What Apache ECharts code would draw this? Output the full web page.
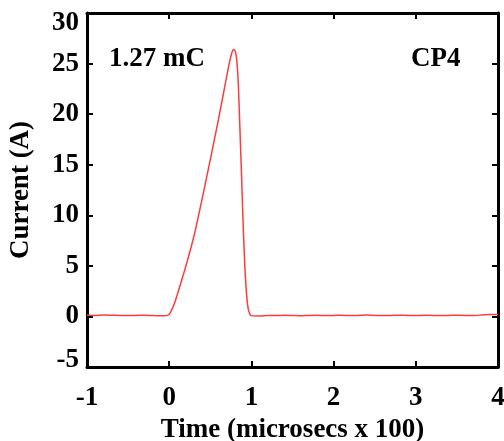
<!DOCTYPE html>
<html>
<head>
<meta charset="utf-8">
<script src="https://cdn.jsdelivr.net/npm/echarts@6/dist/echarts.min.js"></script>
<style>html,body{margin:0;padding:0;background:#fff}#c{width:504px;height:441px}</style>
</head>
<body>
<div id="c"></div>
<script>
// Time (microsecs x 100)
var times = [-1.0, -0.9, -0.8, -0.7, -0.6, -0.5, -0.4, -0.3, -0.2, -0.1, -0.03, 0.0,
  0.05, 0.1, 0.2, 0.3, 0.4, 0.5, 0.6, 0.68, 0.73, 0.76, 0.78, 0.8, 0.82, 0.84, 0.86, 0.88,
  0.9, 0.92, 0.94, 0.96, 0.98, 1.0, 1.1, 1.2, 1.3, 1.4, 1.5, 1.6, 1.7, 1.8, 1.9, 2.0,
  2.1, 2.2, 2.3, 2.4, 2.5, 2.6, 2.7, 2.8, 2.9, 3.0, 3.1, 3.2, 3.3, 3.4, 3.5, 3.6, 3.7,
  3.8, 3.9, 4.0];
// Current (A)
var current = [0.12, 0.1, 0.14, 0.12, 0.1, 0.08, 0.1, 0.12, 0.08, 0.06, 0.1, 0.2,
  1.0, 2.2, 4.9, 7.9, 11.6, 15.5, 19.5, 22.9, 25.0, 26.0, 26.4, 26.3, 25.5, 23.1, 18.6, 14.0,
  9.0, 5.0, 2.3, 0.8, 0.25, 0.08, 0.05, 0.1, 0.08, 0.12, 0.1, 0.06, 0.1, 0.12, 0.08, 0.1,
  0.12, 0.08, 0.1, 0.14, 0.1, 0.08, 0.1, 0.12, 0.1, 0.08, 0.12, 0.1, 0.08, 0.1, 0.12, 0.1, 0.1,
  0.14, 0.18, 0.2];
var xTicks = [-1, 0, 1, 2, 3, 4];
var yTicks = [-5, 0, 5, 10, 15, 20, 25, 30];
var chargeLabel = '1.27 mC';
var probeLabel = 'CP4';

var FONT = 'Liberation Serif';
var FS = 27;
var pts = times.map(function (t, i) { return [t, current[i]]; });
var tickStyle = { show: true, inside: true, length: 6, lineStyle: { color: '#000', width: 2 } };
var lineStyle = { show: true, onZero: false, lineStyle: { color: '#000', width: 3 } };
var lblBase = { fontFamily: FONT, fontWeight: 'bold', fontSize: FS, color: '#000' };

var chart = echarts.init(document.getElementById('c'), null, { renderer: 'canvas' });
chart.setOption({
  animation: false,
  backgroundColor: '#fff',
  grid: { left: 87, right: 6, top: 13, bottom: 74, containLabel: false, outerBoundsMode: 'none' },
  xAxis: [{
    type: 'value', min: xTicks[0], max: xTicks[xTicks.length - 1], interval: 1,
    name: 'Time (microsecs x 100)', nameLocation: 'middle', nameGap: 47,
    nameTextStyle: lblBase,
    axisLine: lineStyle, axisTick: tickStyle, splitLine: { show: false },
    axisLabel: Object.assign({ margin: 18 }, lblBase)
  }, {
    type: 'value', position: 'top', min: xTicks[0], max: xTicks[xTicks.length - 1], interval: 1,
    axisLine: lineStyle, axisTick: tickStyle, splitLine: { show: false },
    axisLabel: { show: false }
  }],
  yAxis: [{
    type: 'value', min: yTicks[0], max: yTicks[yTicks.length - 1], interval: 5,
    name: 'Current (A)', nameLocation: 'middle', nameGap: 52,
    nameTextStyle: lblBase,
    axisLine: lineStyle, axisTick: tickStyle, splitLine: { show: false },
    axisLabel: {
      margin: 8,
      formatter: function (v) {
        if (v === yTicks[yTicks.length - 1]) return '{t|' + v + '}';
        if (v === yTicks[0]) return '{b|' + v + '}';
        return '{n|' + v + '}';
      },
      rich: {
        n: lblBase,
        t: Object.assign({ padding: [20, 0, 0, 0] }, lblBase),
        b: Object.assign({ padding: [0, 0, 14, 0] }, lblBase)
      }
    }
  }, {
    type: 'value', position: 'right', min: yTicks[0], max: yTicks[yTicks.length - 1], interval: 5,
    axisLine: lineStyle, axisTick: tickStyle, splitLine: { show: false },
    axisLabel: { show: false }
  }],
  series: [{
    type: 'line', xAxisIndex: 0, yAxisIndex: 0, data: pts,
    showSymbol: false, symbol: 'none', smooth: 0.2,
    lineStyle: { color: '#ff3b3b', width: 1.5 }, z: 1
  }],
  graphic: [{
    type: 'text', left: 109, top: 46,
    style: { text: chargeLabel, font: 'bold ' + FS + 'px "' + FONT + '"', fill: '#000' }
  }, {
    type: 'text', left: 411, top: 46,
    style: { text: probeLabel, font: 'bold ' + FS + 'px "' + FONT + '"', fill: '#000' }
  }]
});
</script>
</body>
</html>
